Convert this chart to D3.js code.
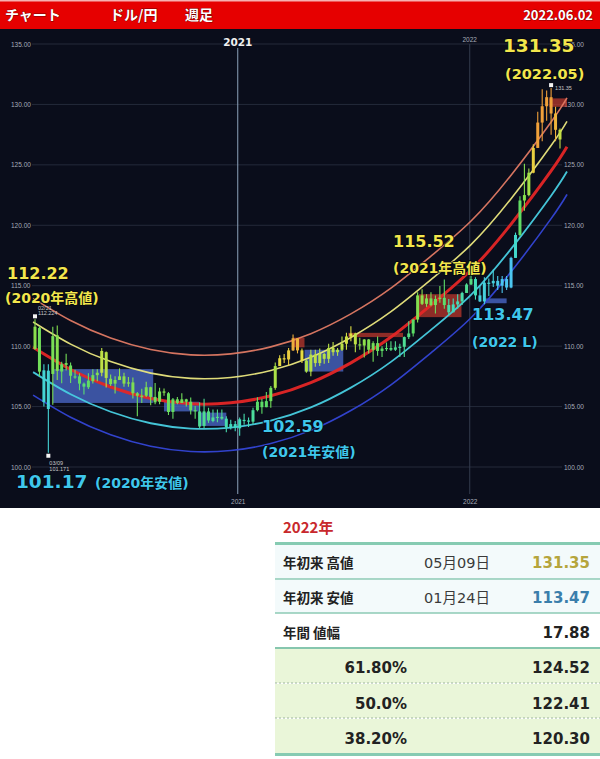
<!DOCTYPE html>
<html><head><meta charset="utf-8">
<script src="https://cdn.jsdelivr.net/npm/d3@7"></script>
<style>
body{margin:0;background:#fff;}
svg{display:block;}
</style>
</head><body>
<svg id="c" width="600" height="759"></svg>
<script>
// ---------------- DATA ----------------
const firstWeek = "2020-02-17";   // Monday of first weekly bar
const lastWeek  = "2022-05-23";   // Monday of last weekly bar
// weekly OHLC [open, high, low, close]
const ohlc2020 = [
 [109.77,112.22,109.70,111.61],[111.50,111.65,107.50,107.89],[108.00,108.50,105.00,105.37],
 [104.80,108.50,101.18,107.97],[107.70,111.60,105.15,110.83],[110.90,111.70,107.20,107.95],
 [107.90,108.70,106.92,108.50],[108.60,109.38,107.98,108.45],[108.40,108.65,106.95,107.55],
 [107.50,108.05,107.30,107.50],[107.50,107.75,106.35,106.90],[106.90,107.00,105.99,106.65],
 [106.60,107.75,106.45,107.15],[107.10,108.08,106.90,107.60],[107.60,108.09,107.10,107.80],
 [107.80,109.85,107.50,109.60],[109.50,109.55,106.58,107.37],[107.30,107.65,106.70,106.86],
 [106.90,107.50,106.08,107.20],[107.20,108.16,107.20,107.50],[107.50,107.80,106.65,106.90],
 [106.90,107.45,106.65,107.00],[107.00,107.40,105.67,106.10],[106.10,106.20,104.19,105.90],
 [105.90,106.48,105.30,105.90],[105.90,107.05,105.80,106.60],[106.60,106.65,105.10,105.80],
 [105.80,106.95,105.20,105.35],[105.40,106.55,105.20,106.25],[106.25,106.50,105.90,106.15],
 [106.10,106.20,104.30,104.55],[104.55,105.70,104.00,105.60],[105.60,105.80,105.20,105.30],
 [105.30,106.10,105.30,105.60],[105.60,105.65,105.00,105.40],[105.40,105.75,104.35,104.70],
 [104.70,105.05,104.00,104.65],[104.60,105.35,103.20,103.35],[103.40,105.65,103.20,104.60],
 [104.60,104.90,103.65,103.85],[103.80,104.75,103.70,104.10],[104.10,104.75,103.70,104.15],
 [104.15,104.75,103.90,104.00],[104.00,104.20,102.88,103.30],[103.30,103.90,103.10,103.55],
 [103.55,103.80,102.95,103.25]
];
const ohlc2021 = [
 [103.20,104.10,102.59,103.95],[103.90,104.40,103.50,103.85],[103.85,104.10,103.30,103.75],
 [103.75,104.90,103.55,104.70],[104.70,105.77,104.60,105.40],[105.40,105.65,104.40,104.95],
 [104.95,106.20,104.95,105.45],[105.45,106.70,104.90,106.55],[106.55,108.65,106.40,108.35],
 [108.35,109.25,108.35,109.00],[109.00,109.35,108.60,108.90],[108.90,109.85,108.40,109.65],
 [109.65,110.97,109.60,110.65],[110.65,110.65,109.40,109.65],[109.65,109.80,108.60,108.80],
 [108.80,108.90,107.80,107.90],[107.90,109.70,107.50,109.30],[109.30,109.70,108.30,108.60],
 [108.60,109.80,108.35,109.35],[109.35,109.45,108.55,108.95],[108.95,110.20,108.60,109.85],
 [109.85,110.35,109.20,109.50],[109.50,109.85,109.20,109.70],[109.70,110.80,109.60,110.20],
 [110.20,111.10,109.70,110.80],[110.80,111.65,110.40,111.05],[111.05,111.10,109.50,110.15],
 [110.15,110.70,109.70,110.05],[110.05,110.60,109.05,110.55],[110.55,110.60,109.40,109.70],
 [109.70,110.40,108.70,110.25],[110.25,110.80,109.20,109.60],[109.60,110.00,109.10,109.80],
 [109.80,110.30,109.60,109.85],[109.85,110.40,109.60,109.70],[109.70,110.40,109.60,109.90],
 [109.90,110.20,109.10,109.95],[109.95,110.80,109.10,110.75],[110.75,112.07,110.60,111.05],
 [111.05,112.25,110.80,112.20],[112.20,114.45,111.95,114.20],[114.20,114.70,113.40,113.50],
 [113.50,114.30,113.25,113.95],[113.95,114.45,113.30,113.40],[113.40,114.20,112.70,113.90],
 [113.90,114.97,113.60,114.00],[114.00,115.52,113.10,113.40],[113.40,113.90,112.55,112.80],
 [112.80,113.95,112.80,113.45],[113.45,114.30,113.10,113.70],[113.70,114.50,113.40,114.40],
 [114.40,115.20,114.40,115.10]
];
const ohlc2022 = [
 [115.10,116.35,115.05,115.55],[115.55,115.70,113.85,114.20],[114.20,115.05,113.65,113.70],
 [113.70,115.70,113.47,115.25],[115.25,115.60,114.15,115.20],[115.20,116.35,114.90,115.40],
 [115.40,115.80,114.65,115.00],[115.00,115.80,114.40,115.55],[115.55,115.80,114.65,114.85],
 [114.85,117.40,114.80,117.30],[117.30,119.40,117.30,119.20],[119.20,122.40,119.10,122.05],
 [122.05,125.10,121.20,122.50],[122.50,124.70,122.40,124.35],[124.35,126.70,124.30,126.40],
 [126.40,129.40,126.40,128.50],[128.50,131.25,126.95,129.85],[129.85,131.15,128.65,130.60],
 [130.60,131.35,127.50,129.25],[129.25,129.80,126.95,127.90],[127.90,128.00,126.35,127.10]
];
// regression channel (centre line) read at anchor dates
const bandDates  = ["2020-02-14","2020-04-13","2020-06-15","2020-08-17","2020-10-19","2020-12-21","2021-02-22","2021-04-26","2021-06-28","2021-08-30","2021-11-01","2022-01-03","2022-03-07","2022-05-09","2022-06-03"];
const bandCenter = [109.9,108.07,106.62,105.67,105.23,105.31,105.89,106.98,108.62,110.75,113.4,116.3,120.1,124.5,126.5];
const bandOffsets = [4.05, 2.1, 0, -2.05, -3.95];
// highlighted ranges [start, end, top, bottom, kind]
const boxStart = ["2020-03-16","2020-09-07","2020-11-02","2021-03-29","2021-04-16","2021-06-24","2021-10-13","2022-01-24","2022-05-06"];
const boxEnd   = ["2020-08-21","2020-11-01","2020-12-14","2021-04-16","2021-06-16","2021-09-18","2021-12-19","2022-02-28","2022-06-03"];
const boxTop   = [108.1,105.4,104.5,110.7,109.7,111.1,114.3,113.95,130.5];
const boxBottom= [105.3,104.6,103.4,109.9,107.9,110.75,112.4,113.55,129.8];
const boxKind  = ["blue","blue","blue","red","blue","red","red","blue","red"];
// extreme markers
const markDates = ["2020-02-17","2020-03-09","2022-05-09"];
const markValues= [112.22,101.18,131.35];
const markKind  = ["high","low","high"];
const markText1 = ["02/21","03/09",""];
const markText2 = ["112.224","101.171","131.35"];
const yTicks = [100,105,110,115,120,125,130,135];
const yearTicks = ["2021-01-01","2022-01-01"];
// header
const headerItems = ["チャート","ドル/円","週足"];
const headerDate = "2022.06.02";
// table
const tableYear = "2022年";
const rowLabels = ["年初来 高値","年初来 安値","年間 値幅"];
const rowDates  = ["05月09日","01月24日",""];
const rowValues = ["131.35","113.47","17.88"];
const fibLabels = ["61.80%","50.0%","38.20%"];
const fibValues = ["124.52","122.41","120.30"];

// ---------------- DRAW ----------------
const P = d3.timeParse("%Y-%m-%d");
const svg = d3.select("#c");
const W = 600;
const chartTop = 29, chartBottom = 508;

const x = d3.scaleTime().domain([P(firstWeek), P(lastWeek)]).range([35, 560]);
const y = d3.scaleLinear().domain([100, 135]).range([467, 44]);

// header
svg.append("rect").attr("x",0).attr("y",0).attr("width",W).attr("height",chartTop).attr("fill","#e60000");
svg.append("rect").attr("x",0).attr("y",0).attr("width",W).attr("height",1.5).attr("fill","#f6b0b0");
const hx = [5, 110, 185];
svg.selectAll("text.hd").data(headerItems).enter().append("text")
  .attr("x",(d,i)=>hx[i]).attr("y",20)
  .attr("font-family","Noto Sans CJK JP").attr("font-weight","bold").attr("font-size",14)
  .attr("fill","#fff").style("paint-order","stroke").attr("stroke","#700").attr("stroke-width",0.8)
  .text(d=>d);
svg.append("text").attr("x",593).attr("y",20).attr("text-anchor","end")
  .attr("font-family","Noto Sans CJK JP").attr("font-weight","bold").attr("font-size",13)
  .attr("fill","#fff").style("paint-order","stroke").attr("stroke","#700").attr("stroke-width",0.8)
  .text(headerDate);

// chart background
svg.append("rect").attr("x",0).attr("y",chartTop).attr("width",W).attr("height",chartBottom-chartTop).attr("fill","#0a0d1b");

// grid
const g = svg.append("g");
g.selectAll("line.grid").data(yTicks).enter().append("line")
  .attr("x1",32).attr("x2",562).attr("y1",d=>y(d)).attr("y2",d=>y(d))
  .attr("stroke","#242a3a").attr("stroke-width",1);

// y axis labels (left and right)
const axL = d3.axisRight(y).tickValues(yTicks).tickFormat(d3.format(".2f")).tickSize(0);
const axR = d3.axisRight(y).tickValues(yTicks).tickFormat(d3.format(".2f")).tickSize(0);
[[10,axL],[563,axR]].forEach(([tx,ax])=>{
  const a = svg.append("g").attr("transform",`translate(${tx},0)`).call(ax);
  a.select(".domain").remove();
  a.selectAll("text").attr("fill","#a6abb8").attr("font-size",6.5)
    .attr("font-family","Liberation Sans").attr("dx",-2);
});

// year lines
const yearDates = yearTicks.map(P);
svg.append("line").attr("x1",x(yearDates[0])).attr("x2",x(yearDates[0]))
  .attr("y1",48).attr("y2",494).attr("stroke","#8da2ba").attr("stroke-width",1);
svg.append("line").attr("x1",x(yearDates[1])).attr("x2",x(yearDates[1]))
  .attr("y1",44).attr("y2",494).attr("stroke","#343c4e").attr("stroke-width",1);
const axB = d3.axisBottom(x).tickValues(yearDates).tickFormat(d3.timeFormat("%Y")).tickSize(0);
const ab = svg.append("g").attr("transform","translate(0,496)").call(axB);
ab.select(".domain").remove();
ab.selectAll("text").attr("fill","#a6abb8").attr("font-size",6.5).attr("font-family","Liberation Sans");
svg.append("text").attr("x",x(yearDates[0])).attr("y",46).attr("text-anchor","middle")
  .attr("font-family","DejaVu Sans").attr("font-weight","bold").attr("font-size",10.5)
  .attr("fill","#f0f0f0").text(d3.timeFormat("%Y")(yearDates[0]));
svg.append("text").attr("x",x(yearDates[1])).attr("y",42).attr("text-anchor","middle")
  .attr("font-family","Liberation Sans").attr("font-size",6.5)
  .attr("fill","#a6abb8").text(d3.timeFormat("%Y")(yearDates[1]));

// highlighted boxes
const boxes = boxStart.map((s,i)=>({s:P(s), e:P(boxEnd[i]), t:boxTop[i], b:boxBottom[i], k:boxKind[i]}));
svg.selectAll("rect.box").data(boxes).enter().append("rect")
  .attr("x",d=>x(d.s)).attr("width",d=>x(d.e)-x(d.s))
  .attr("y",d=>y(d.t)).attr("height",d=>y(d.b)-y(d.t))
  .attr("fill",d=>d.k==="blue"?"#4f6fd6":"#c63a2c")
  .attr("opacity",d=>d.k==="blue"?0.72:0.7);

// regression bands
const bandPts = bandDates.map((d,i)=>({date:P(d), c:bandCenter[i]}));
const bandColors = ["#e07a64","#ebe77e","#e42626","#48cfe2","#3446d6"];
const bandWidths = [1.6,1.6,3,1.8,1.6];
bandOffsets.forEach((off,i)=>{
  const line = d3.line().x(d=>x(d.date)).y(d=>y(d.c+off)).curve(d3.curveNatural);
  svg.append("path").datum(bandPts).attr("d",line).attr("fill","none")
    .attr("stroke",bandColors[i]).attr("stroke-width",bandWidths[i]).attr("opacity",0.95);
});

// candles
const allOhlc = ohlc2020.concat(ohlc2021, ohlc2022);
const start = P(firstWeek);
const bars = allOhlc.map((d,i)=>({date:d3.timeWeek.offset(start,i), o:d[0], h:d[1], l:d[2], c:d[3]}));
const centerAt = d3.scaleTime().domain(bandPts.map(d=>d.date)).range(bandCenter);
const sigma = 2.0;
const zColor = d3.scaleLinear().domain([-2,-1,-0.3,0.5,1.2,2])
  .range(["#4cc6f0","#40dcc4","#5cdc66","#8ee04a","#e6e042","#f0a03a"]).clamp(true);
const cg = svg.append("g");
bars.forEach(b=>{
  const z = ((b.o+b.c)/2 - centerAt(b.date))/sigma;
  const col = zColor(z);
  const cx = x(b.date);
  cg.append("line").attr("x1",cx).attr("x2",cx).attr("y1",y(b.h)).attr("y2",y(b.l))
    .attr("stroke",col).attr("stroke-width",1.1);
  const top = y(Math.max(b.o,b.c)), bot = y(Math.min(b.o,b.c));
  cg.append("rect").attr("x",cx-1.5).attr("width",3).attr("y",top).attr("height",Math.max(1.2,bot-top))
    .attr("fill",col);
});

// markers
const small = {"font-family":"Liberation Sans","font-size":5.5,"fill":"#c8c8c8"};
function smallText(tx, ty, s){
  const t = svg.append("text").attr("x",tx).attr("y",ty).text(s);
  Object.entries(small).forEach(([k,v])=>t.attr(k,v));
}
markDates.forEach((d,i)=>{
  const mx = x(P(d));
  const my = markKind[i]==="high" ? y(markValues[i])-3 : y(markValues[i])+3;
  svg.append("rect").attr("x",mx-2).attr("y",my-2).attr("width",4).attr("height",4).attr("fill","#f4f4f4");
  if(markKind[i]==="high"){
    if(markText1[i]){
      smallText(mx+3, my-6.5, markText1[i]);
      smallText(mx+3, my-1.5, markText2[i]);
    } else {
      smallText(mx+4, my+5, markText2[i]);
    }
  } else {
    smallText(mx+1, my+9, markText1[i]);
    smallText(mx+1, my+15, markText2[i]);
  }
});

// annotations
const FONT = "DejaVu Sans, Noto Sans CJK JP";
function ann(txt, ax, ay, size, color, anchor){
  svg.append("text").attr("x",ax).attr("y",ay).attr("text-anchor",anchor||"start")
    .attr("font-family",FONT).attr("font-weight","bold").attr("font-size",size)
    .attr("fill",color).style("paint-order","stroke").attr("stroke","#05070f").attr("stroke-width",1.5)
    .text(txt);
}
const YEL = "#f3e64c", CY = "#3fc7ec";
ann(d3.format(".2f")(markValues[0]), 7, 279, 16, YEL);
ann("(2020年高値)", 5, 303, 14, YEL);
ann("101.17", 16, 488, 18.5, CY);
ann("(2020年安値)", 95, 488, 14, CY);
ann("102.59", 262, 432, 16, CY);
ann("(2021年安値)", 262, 457, 14, CY);
ann("115.52", 393, 247, 16, YEL);
ann("(2021年高値)", 393, 273, 14, YEL);
ann("113.47", 472, 320, 16, CY);
ann("(2022 L)", 472, 347, 14, CY);
ann(d3.format(".2f")(markValues[2]), 503, 52, 18.5, YEL);
ann("(2022.05)", 505, 79, 14.5, YEL);

// ---------------- TABLE ----------------
const T = svg.append("g");
const tx0 = 275, tx1 = 600;
T.append("text").attr("x",283).attr("y",533).attr("font-family","Noto Sans CJK JP").attr("font-weight","bold")
  .attr("font-size",15).attr("fill","#c8282c").text(tableYear);
const rowTop = [545,580,614,649,684,719];
const rowBot = [579,613,648,683,718,753];
const rowFill = ["#f3fafb","#f3fafb","#ffffff","#eaf6d9","#eaf6d9","#eaf6d9"];
rowTop.forEach((t,i)=>T.append("rect").attr("x",tx0).attr("width",tx1-tx0).attr("y",t).attr("height",rowBot[i]-t).attr("fill",rowFill[i]));
// borders
T.append("rect").attr("x",tx0).attr("width",tx1-tx0).attr("y",542).attr("height",3).attr("fill","#86cbb2");
T.append("rect").attr("x",tx0).attr("width",tx1-tx0).attr("y",753).attr("height",3).attr("fill","#86cbb2");
[579,613].forEach(v=>T.append("line").attr("x1",tx0).attr("x2",tx1).attr("y1",v).attr("y2",v).attr("stroke","#8ccab4").attr("stroke-width",1.5));
T.append("line").attr("x1",tx0).attr("x2",tx1).attr("y1",648).attr("y2",648).attr("stroke","#86c6ae").attr("stroke-width",2);
[683,718].forEach(v=>T.append("line").attr("x1",tx0).attr("x2",tx1).attr("y1",v).attr("y2",v).attr("stroke","#9cb59c").attr("stroke-width",1).attr("stroke-dasharray","2,2"));

const baseY = [568,603,638,673,709,744];
rowLabels.forEach((l,i)=>{
  T.append("text").attr("x",283).attr("y",baseY[i]).attr("font-family","Noto Sans CJK JP").attr("font-weight","bold")
    .attr("font-size",13.5).attr("fill","#222").text(l);
  T.append("text").attr("x",457).attr("y",baseY[i]).attr("text-anchor","middle").attr("font-family",FONT)
    .attr("font-size",14.5).attr("fill","#3a3a3a").text(rowDates[i]);
  T.append("text").attr("x",590).attr("y",baseY[i]).attr("text-anchor","end").attr("font-family",FONT)
    .attr("font-weight","bold").attr("font-size",15)
    .attr("fill",i===0?"#b5a53c":(i===1?"#3a7eab":"#222")).text(rowValues[i]);
});
fibLabels.forEach((l,i)=>{
  T.append("text").attr("x",407).attr("y",baseY[i+3]).attr("text-anchor","end").attr("font-family",FONT)
    .attr("font-weight","bold").attr("font-size",15).attr("fill","#222").text(l);
  T.append("text").attr("x",590).attr("y",baseY[i+3]).attr("text-anchor","end").attr("font-family",FONT)
    .attr("font-weight","bold").attr("font-size",15).attr("fill","#222").text(fibValues[i]);
});
</script>
</body></html>
